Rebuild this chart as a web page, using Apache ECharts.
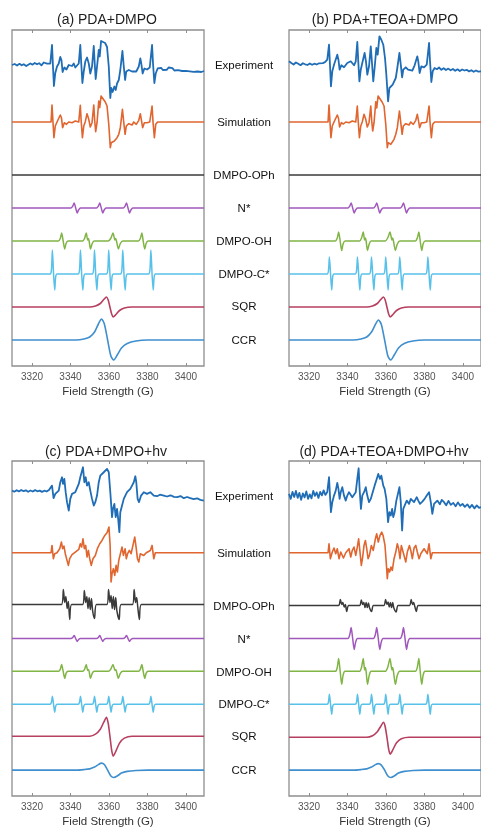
<!DOCTYPE html>
<html>
<head>
<meta charset="utf-8">
<script src="https://cdn.jsdelivr.net/npm/echarts@6/dist/echarts.min.js"></script>
<style>
html,body{margin:0;padding:0;background:#fff;}
#chart{width:481px;height:829px;}
</style>
</head>
<body>
<div id="chart"></div>
<script>
// ---------- axis / labels ----------
const fieldMin = 3309.6;
const fieldMax = 3409.4;
const tickValues = [3320, 3340, 3360, 3380, 3400];
const axisTitle = 'Field Strength (G)';
const panelTitles = ['(a) PDA+DMPO', '(b) PDA+TEOA+DMPO', '(c) PDA+DMPO+hv', '(d) PDA+TEOA+DMPO+hv'];
const traceNames = ['Experiment', 'Simulation', 'DMPO-OPh', 'N*', 'DMPO-OH', 'DMPO-C*', 'SQR', 'CCR'];

// ---------- Experiment / Simulation: [field (G), signal] ----------
const expA = [[3309.6,0],[3311,1],[3312.2,-0.5],[3313.5,1.2],[3314.6,-0.3],[3315.7,0.8],[3317,-1],[3318,0.6],[3319.1,1.5],[3320.3,0.4],[3321.4,2],[3322.6,0.7],[3323.7,1.8],[3324.9,-0.4],[3326.1,2.5],[3327,0.5],[3327.8,1.3],[3328.7,-0.5],[3329.5,1.5],[3330.4,20],[3330.9,-1.5],[3331.4,-21],[3332.1,-8],[3333.0,-1.5],[3333.9,1.5],[3334.7,8],[3335.3,5],[3335.9,-7],[3336.8,-2.5],[3337.9,-4.5],[3339.1,0],[3339.9,1.5],[3340.8,-1],[3341.7,1.5],[3342.5,-2.5],[3343.4,-3.5],[3344.3,1.5],[3345.1,20],[3345.6,1.5],[3346.2,-18],[3346.9,-6.5],[3347.7,3.5],[3348.6,7.5],[3349.5,1.5],[3350.3,-8.5],[3351.2,-1.5],[3352.1,19],[3352.6,1.5],[3353.1,-14],[3353.8,-1.5],[3354.7,15],[3355.2,8.5],[3355.9,24],[3356.9,25.5],[3358.0,22],[3359.0,18],[3359.9,-1.5],[3360.7,-33],[3361.2,-23],[3361.9,-27],[3362.8,-21.5],[3363.5,-25],[3364.2,-18.5],[3365.1,-15],[3365.9,-5],[3367.0,14],[3367.7,-1.5],[3368.4,-15],[3369.0,-6.5],[3370.3,-5],[3371.1,-4.5],[3372.0,-6.5],[3372.9,-4.5],[3374.2,-6.5],[3375.5,-1.5],[3376.3,6.5],[3376.8,1.5],[3377.5,-8.5],[3378.4,-3.5],[3379.8,-4.5],[3381.2,-2.5],[3382.4,20],[3382.9,1.5],[3383.6,-18],[3384.3,-8.5],[3385.3,-3.5],[3386.2,-4.5],[3387.1,-2.8],[3388.0,-5],[3389,-3],[3390,-4.8],[3391,-2.5],[3392,-4.5],[3393,-3.2],[3394,-5.5],[3395,-3.8],[3396,-5.2],[3397,-4],[3398,-6],[3399,-4.2],[3400,-5.8],[3401,-4.5],[3402,-6.3],[3403,-5],[3404,-6.8],[3405,-5.2],[3406,-6.5],[3407,-5.5],[3408,-7],[3409.4,-6]];
const simA = [[3309.6,0],[3329.9,0],[3330.4,17],[3330.9,0],[3331.4,-15.7],[3332.1,-4],[3333.0,0],[3333.9,1],[3334.7,7],[3335.3,4.3],[3335.9,-5.7],[3336.8,-0.7],[3337.9,-2.3],[3339.1,0],[3340.8,-0.7],[3342.5,1],[3344.3,0],[3345.1,16.7],[3345.6,0],[3346.2,-15.7],[3346.9,-4],[3347.7,0.3],[3348.6,8.3],[3349.5,2.7],[3350.3,-5],[3351.2,-0.7],[3352.1,17],[3352.6,1],[3353.1,-9.7],[3353.8,-0.7],[3354.7,21],[3355.2,14.3],[3355.9,26],[3356.9,24.3],[3358.0,20.3],[3359.0,16],[3359.9,-2.3],[3360.7,-25.7],[3361.2,-20.7],[3361.9,-22.3],[3362.8,-19],[3363.5,-20.7],[3364.2,-15.7],[3365.1,-12.3],[3365.9,-5.7],[3367.0,12.7],[3367.7,-0.7],[3368.4,-12.3],[3369.0,-4],[3370.3,-1.7],[3371.1,-0.7],[3372.0,-3],[3372.9,0],[3374.2,-2.3],[3375.5,1.7],[3376.3,8.3],[3376.8,2.7],[3377.5,-5.7],[3378.4,-0.7],[3379.8,-0.7],[3381.2,0],[3382.4,16],[3382.9,0],[3383.6,-15.7],[3384.3,-2.3],[3385.3,0],[3409.4,0]];
const expB = [[3309.6,2.7],[3310.8,1],[3312,-0.5],[3313.2,1.5],[3314.4,0.2],[3315.6,-1.2],[3316.8,0.8],[3318,-0.3],[3319.2,-1],[3320.4,0.5],[3321.6,-0.8],[3322.8,0.3],[3324,-0.5],[3325.2,0.7],[3326.1,-0.2],[3327.2,0.9],[3328.3,1.8],[3329.5,4.3],[3330.4,19.3],[3330.9,-0.7],[3331.4,-22.3],[3332.1,-7.3],[3333.0,-0.7],[3333.9,1],[3334.7,9.3],[3335.3,4.3],[3335.9,-5.7],[3336.8,-1.3],[3338.2,-3.3],[3339.9,1],[3341.7,2.7],[3343.4,-1.3],[3344.3,2.7],[3345.1,22],[3345.6,2.7],[3346.2,-17.3],[3346.9,-5.7],[3347.9,2.7],[3348.9,11],[3349.6,2.7],[3350.3,-10.7],[3351.2,-2.3],[3352.1,17.7],[3352.8,-0.7],[3353.4,-17.3],[3354.1,-4],[3355.0,16],[3355.7,9.3],[3356.6,27.7],[3357.6,24.3],[3358.6,19.3],[3359.5,6],[3360.2,-10.7],[3361.1,-37.3],[3361.8,-24],[3362.6,-22.3],[3363.5,-20.7],[3364.2,-22.3],[3365.1,-14],[3365.9,-4],[3367.0,11],[3367.7,-0.7],[3368.4,-13.3],[3369.0,-5.7],[3370.3,-3.3],[3371.5,-5.7],[3372.5,-4],[3373.7,-6.7],[3374.9,-1.3],[3376.3,7.7],[3376.8,2.7],[3377.5,-9],[3378.4,-2.3],[3379.8,-3.3],[3381.2,-0.7],[3382.4,21],[3382.9,2.7],[3383.6,-18],[3384.3,-7.3],[3385.3,-4],[3386.5,-5.2],[3387.6,-3.5],[3388.8,-5.8],[3390,-4.2],[3391.2,-6],[3392.4,-4.6],[3393.6,-6.3],[3394.8,-5],[3396,-6.8],[3397.2,-5.3],[3398.4,-7],[3399.6,-5.5],[3400.8,-6.5],[3402,-5.8],[3403.2,-7.4],[3404.4,-6.2],[3405.6,-7.8],[3406.8,-6.5],[3408,-7.6],[3409.4,-7.3]];
const simB = [[3309.6,0],[3329.9,0],[3330.4,17],[3330.9,0],[3331.4,-15.7],[3332.1,-4],[3333.0,0],[3333.9,1],[3334.7,7],[3335.3,4],[3335.9,-5],[3336.8,-0.7],[3337.9,-2],[3339.1,0],[3340.8,-0.7],[3342.5,1],[3344.3,0],[3345.1,16],[3345.6,0],[3346.2,-15.7],[3346.9,-4],[3347.7,0.3],[3348.6,7.7],[3349.5,2.7],[3350.3,-5],[3351.2,-0.7],[3352.1,16],[3352.6,1],[3353.1,-9],[3353.8,-0.7],[3354.7,20.3],[3355.2,14],[3355.9,26],[3356.9,24.3],[3358.0,20],[3359.0,16],[3359.9,-2.3],[3360.7,-25.7],[3361.2,-20.7],[3362.5,-22.3],[3363.5,-19.5],[3364.2,-17.3],[3365.1,-12.3],[3365.9,-5.7],[3367.0,11],[3367.7,-0.7],[3368.4,-12.3],[3369.0,-4],[3370.3,-1.7],[3371.1,-0.7],[3372.0,-3],[3372.9,0],[3374.2,-2.3],[3375.5,1.7],[3376.3,7.7],[3376.8,2.7],[3377.5,-5.7],[3378.4,-0.7],[3379.8,-0.7],[3381.2,0],[3382.4,16],[3382.9,0],[3383.6,-15.7],[3384.3,-2.3],[3385.3,0],[3409.4,0]];
const expC = [[3309.6,0.5],[3310.8,-0.8],[3312,0.7],[3313.2,-0.5],[3314.4,0.9],[3315.6,-0.3],[3316.8,0.6],[3318,-0.9],[3319.2,0.4],[3320.4,-0.6],[3321.6,0.8],[3322.8,-0.4],[3324,0.3],[3325.2,-1],[3326.4,0.2],[3327.6,-0.6],[3328.8,0.9],[3329.5,0.3],[3330.4,5.3],[3331.2,-7.3],[3332.1,-3],[3333.0,-1.3],[3333.9,0.3],[3334.7,8.7],[3335.6,13.7],[3336.1,7],[3336.8,12],[3337.5,-1.3],[3338.2,-11.3],[3339.1,-19.7],[3339.9,-8],[3340.8,-3],[3341.7,-4],[3342.5,-1.3],[3343.4,0.3],[3344.3,7],[3345.1,13.7],[3345.6,12],[3346.5,23.7],[3347.2,8.7],[3347.9,13.7],[3348.6,5.3],[3349.5,8.7],[3350.3,0.3],[3351.2,-8],[3352.1,-14.7],[3352.9,-11.3],[3353.8,-4.7],[3354.7,8.7],[3355.5,15.3],[3356.4,17],[3357.3,18.7],[3358.1,20.3],[3359.0,22],[3359.9,18.7],[3360.7,-1.3],[3361.6,-26.3],[3362.1,-18],[3362.8,-13],[3363.5,-26.3],[3364.2,-18],[3364.7,-26.3],[3365.4,-41.3],[3365.9,-21.3],[3366.8,-14.7],[3367.7,-8],[3368.5,-4.7],[3369.4,-1.3],[3370.3,0.3],[3371.1,2],[3372.0,5.3],[3372.9,8.7],[3373.7,14.7],[3374.2,8.7],[3374.9,-8],[3375.6,-11.3],[3376.7,-4.7],[3378.1,-1.3],[3379.8,-3],[3381.5,-1.3],[3383.3,-4.7],[3385.0,-5.3],[3386.5,-3.8],[3388.5,-4.7],[3390.2,-5.6],[3392,-4.4],[3393.8,-6],[3395.4,-6.3],[3397.2,-5.2],[3398.9,-7.3],[3400.6,-6.1],[3402.3,-7.3],[3404,-8.2],[3405.8,-7.4],[3407.5,-9],[3409.3,-9.7]];
const simC = [[3309.6,0],[3329.9,0],[3330.4,7.3],[3331.1,-6],[3331.8,-1],[3333.0,0],[3334.4,4],[3335.3,10.7],[3335.9,4],[3336.6,6.7],[3337.3,-1],[3338.2,-7.7],[3338.9,-12.7],[3339.6,-6],[3340.8,-2],[3342.5,0.7],[3344.3,3.3],[3345.1,9],[3345.8,5.7],[3346.5,14],[3347.2,4],[3347.9,7.3],[3348.6,-4.3],[3349.3,2.3],[3350.0,-6],[3350.8,-12.7],[3351.7,-6],[3352.9,-2.7],[3354.1,4.7],[3355.2,9],[3356.4,12.3],[3357.6,16.7],[3359.0,20],[3360.0,25.7],[3360.6,7.3],[3361.1,-29.3],[3361.6,-21],[3362.3,-16],[3363.0,-22.7],[3363.7,-12.7],[3364.4,-19.3],[3365.1,-7.7],[3365.9,-9.3],[3366.8,5.7],[3367.5,-2.7],[3368.4,4],[3369.0,-6],[3369.7,-1],[3370.6,2.3],[3371.5,-1],[3372.5,0.7],[3373.4,15.7],[3374.1,5.7],[3374.8,-6],[3375.5,-9.3],[3376.3,-1],[3378.1,-2.7],[3379.4,0],[3381.5,2.3],[3382.4,7.3],[3383.3,-6],[3384.1,0],[3409.4,0]];
const expD = [[3309.6,2],[3310.5,-3],[3311.4,4],[3312.3,-1],[3313.2,5],[3314.1,-2],[3315,3],[3315.9,-4],[3316.8,2.5],[3317.7,-1.5],[3318.6,4.5],[3319.5,-3],[3320.4,1.5],[3321.3,-2.5],[3322.2,5],[3323.1,0],[3324,3.5],[3324.9,-2],[3325.8,4],[3326.7,0.5],[3327.6,5.5],[3328.5,1],[3329.5,4],[3330.4,18.7],[3330.9,0.3],[3331.4,-16.3],[3332.1,-6.3],[3333.0,0.3],[3333.9,5.3],[3334.7,13],[3335.3,7],[3335.9,-3],[3336.5,3.7],[3337.3,8.7],[3338.2,0.3],[3339.1,-4.7],[3339.9,0.3],[3340.8,3.7],[3341.7,5.3],[3342.5,-1.3],[3343.4,-3],[3344.3,3.7],[3345.1,17],[3345.8,27.7],[3346.3,7],[3347.0,-13],[3347.7,0.3],[3348.6,3.7],[3349.5,8.7],[3350.3,0.3],[3351.2,-6.3],[3352.1,-3],[3352.9,-1.3],[3354.1,10.3],[3355.2,17],[3356.0,22],[3356.9,17],[3357.6,20.3],[3358.6,10.3],[3359.3,7],[3360.2,-3],[3361.1,-26.3],[3361.8,-16.3],[3362.5,-19.7],[3363.2,-13],[3363.8,-21.3],[3364.5,-16.3],[3365.4,-4.7],[3366.3,-3],[3367.0,8.7],[3367.7,-6.3],[3368.4,-34.7],[3369.0,-13],[3369.7,-9.7],[3370.8,-4.7],[3372.0,-8],[3372.9,-3],[3374.6,-6.3],[3376.0,-1.3],[3376.8,-4.7],[3377.7,-8],[3378.9,-5.7],[3380.1,-3],[3381.2,0.3],[3382.4,3.7],[3383.3,-6.3],[3384.1,-18],[3385.0,-8],[3386.7,-4.7],[3388,-8.5],[3389,-4],[3390.2,-6.3],[3391.3,-9.5],[3392.5,-5],[3393.7,-9],[3395,-7],[3396.2,-10.5],[3397.4,-6.5],[3398.6,-10],[3399.8,-8],[3401,-11],[3402.3,-8.5],[3403.5,-12],[3404.7,-9],[3406,-12.5],[3407.2,-9.5],[3408.4,-12],[3409.4,-11.3]];
const simD = [[3309.6,0],[3329.9,0],[3330.4,9],[3331.1,-6],[3332.1,0.7],[3333.0,4.7],[3333.9,-1],[3334.7,4],[3335.6,-6],[3336.5,0.7],[3337.9,-5.3],[3339.1,0],[3340.8,4],[3341.7,-4.3],[3342.5,2.3],[3343.4,5.7],[3344.3,-2.7],[3345.1,5.7],[3345.8,14],[3346.5,0.7],[3347.2,-12.7],[3347.9,-4.3],[3348.6,7.3],[3349.3,12.3],[3350.0,4],[3350.7,-6],[3351.4,-2.7],[3352.4,7.3],[3353.4,2.3],[3354.5,14],[3355.2,19],[3356.0,10.7],[3356.9,17.3],[3357.8,20.7],[3358.5,17.3],[3359.5,7.3],[3360.2,-11],[3360.7,-26],[3361.2,-16],[3361.9,-19.3],[3362.6,-14.3],[3363.3,-17.7],[3364.2,-6],[3365.1,0.7],[3365.9,9],[3366.6,4],[3367.3,-6],[3368.0,7.3],[3368.7,9],[3369.4,-2.7],[3370.3,-9.3],[3371.1,0.7],[3372.2,7.3],[3372.9,2.3],[3373.7,-6],[3374.6,4.7],[3375.5,7.3],[3376.3,0.7],[3377.2,-6],[3378.1,-1],[3379.8,4],[3381.5,-1],[3382.4,9],[3383.3,-6],[3384.1,0],[3409.4,0]];

// ---------- component spectra: shared field grids + per-panel signal ----------
const ophField = [3309.6, 3335.3,3336.3,3337.0,3337.6,3338.3,3338.9,3339.6,3340.6, 3346.3,3347.2,3347.9,3348.5,3349.1,3349.7,3350.3,3350.9,3351.5,3352.5,3353.5, 3358.9,3359.8,3360.5,3361.1,3361.7,3362.3,3362.9,3363.5,3364.1,3365.3,3366.3, 3372.2,3373.1,3373.8,3374.4,3375.0,3375.8,3376.8, 3409.4];
const ophA = [0, 0,0,0,0,0,0,0,0, 0,0,0,0,0,0,0,0,0,0,0, 0,0,0,0,0,0,0,0,0,0,0, 0,0,0,0,0,0,0, 0];
const ophB = [0, 0,0,0,0,0,0,0,0, 0,0,0,0,0,0,0,0,0,0,0, 0,0,0,0,0,0,0,0,0,0,0, 0,0,0,0,0,0,0, 0];
const ophC = [0, 0,15,2,8,-4,3,-15,0, 0,14,2,8,-4,7,-5,6,-6,-14,0, 0,15,2,9,-4,8,-5,7,-6,-15,0, 0,15,2,7,-3,-15,0, 0];
const ophD = [0, 0,6,1,3,-1.5,1,-6,0, 0,5.5,1,3,-2,3,-2,2.5,-2.5,-6,0, 0,6,1,3.5,-1.5,3,-2,3,-2.5,-6.5,0, 0,6,1,3,-1,-6,0, 0];

const nField = [3309.6, 3340.2,3341.2,3341.9,3342.7,3343.5,3344.2,3345.2, 3353.5,3354.5,3355.2,3356.0,3356.8,3357.5,3358.5, 3367.4,3368.4,3369.1,3369.9,3370.7,3371.4,3372.4, 3409.4];
const nA = [0, 0,2,5,0,-5,-2,0, 0,2,5,0,-5,-2,0, 0,2,5,0,-5,-2,0, 0];
const nB = [0, 0,2,5,0,-5,-2,0, 0,2,5,0,-5,-2,0, 0,2,5,0,-5,-2,0, 0];
const nC = [0, 0,1,3,0,-3,-1,0, 0,1,3,0,-3,-1,0, 0,1,3,0,-3,-1,0, 0];
const nD = [0, 0,4,11,0,-11,-4,0, 0,4,11,0,-11,-4,0, 0,4,11,0,-11,-4,0, 0];

const ohField = [3309.6, 3333.7,3334.7,3335.4,3336.2,3337.0,3337.7,3338.7, 3346.3,3347.3,3348.2,3348.9,3349.3,3349.7,3350.4,3351.3,3352.3, 3359.6,3360.9,3362.1,3363.1,3363.5,3363.9,3364.9,3365.9,3367.2, 3375.3,3376.3,3377.1,3377.8,3378.6,3379.3,3380.3, 3409.4];
const ohA = [0, 0,2.5,8,0,-8,-2.5,0, 0,2.5,8,1,2.5,0,-8,-2.5,0, 0,2.5,8,1,2.5,0,-8,-2.5,0, 0,2.5,8,0,-8,-2.5,0, 0];
const ohB = [0, 0,3,9,0,-9.5,-3,0, 0,3,9,1,3,0,-9.5,-3,0, 0,3,9,1,3,0,-9.5,-3,0, 0,3,9,0,-9.5,-3,0, 0];
const ohC = [0, 0,2,7,0,-7,-2,0, 0,2,7,1,2,0,-7,-2,0, 0,2,7,1,2,0,-7,-2,0, 0,2,7,0,-7,-2,0, 0];
const ohD = [0, 0,4,13,0,-13,-4,0, 0,4,13,1.5,4,0,-13,-4,0, 0,4,13,1.5,4,0,-13,-4,0, 0,4,13,0,-13,-4,0, 0];

const cField = [3309.6, 3329.4,3330.1,3330.6,3331.2,3331.8,3332.3,3333.0, 3344.0,3344.7,3345.2,3345.8,3346.4,3346.9,3347.6, 3351.3,3352.0,3352.5,3353.1,3353.7,3354.2,3354.9, 3358.7,3359.4,3359.9,3360.5,3361.1,3361.6,3362.3, 3366.0,3366.7,3367.2,3367.8,3368.4,3368.9,3369.6, 3380.6,3381.3,3381.8,3382.4,3383.0,3383.5,3384.2, 3409.4];
const cA = [0, 0,4,24,0,-16,-3,0, 0,4,24,0,-16,-3,0, 0,4,24,0,-16,-3,0, 0,4,24,0,-16,-3,0, 0,4,24,0,-16,-3,0, 0,4,24,0,-16,-3,0, 0];
const cB = [0, 0,3,17,0,-16,-3,0, 0,3,17,0,-16,-3,0, 0,3,17,0,-16,-3,0, 0,3,17,0,-16,-3,0, 0,3,17,0,-16,-3,0, 0,3,17,0,-16,-3,0, 0];
const cC = [0, 0,2,8,0,-8,-2,0, 0,2,8,0,-8,-2,0, 0,2,8,0,-8,-2,0, 0,2,8,0,-8,-2,0, 0,2,8,0,-8,-2,0, 0,2,8,0,-8,-2,0, 0];
const cD = [0, 0,2,10,0,-10,-2,0, 0,2,10,0,-10,-2,0, 0,2,10,0,-10,-2,0, 0,2,10,0,-10,-2,0, 0,2,10,0,-10,-2,0, 0,2,10,0,-10,-2,0, 0];

const sqrField = [3309.6, 3350, 3353, 3355.5, 3357.3, 3358.7, 3359.6, 3360.5, 3361.4, 3362.2, 3363.6, 3365.5, 3368, 3372, 3409.4];
const sqrA = [0, 0, 1, 3.5, 7.5, 10, 7, 0, -7, -10, -7.5, -3.5, -1, 0, 0];
const sqrB = [0, 0, 1, 3.5, 7.5, 10, 7, 0, -7, -10, -7.5, -3.5, -1, 0, 0];
const sqrC = [0, 0, 2, 7, 14, 19, 13, 0, -14, -20, -15, -7, -2, 0, 0];
const sqrD = [0, 0, 1.5, 5.5, 11, 15, 10.5, 0, -12, -17, -12.5, -5.5, -1.5, 0, 0];

const ccrField = [3309.6, 3343, 3347, 3350, 3352.5, 3354.5, 3356.1, 3357.6, 3359.3, 3361, 3362.5, 3364.3, 3366.5, 3369.5, 3374, 3380, 3409.4];
const ccrA = [0, 0, 1, 3, 8, 16, 21, 16, 0, -16, -20, -15, -8, -3.5, -1, 0, 0];
const ccrB = [0, 0, 1, 3, 8, 15.5, 20, 15.5, 0, -16, -20, -15, -8, -3.5, -1, 0, 0];
const ccrC = [0, 0, 0.5, 1.2, 3, 5.5, 7, 5.5, 0, -6, -7.5, -6, -3, -1.3, -0.4, 0, 0];
const ccrD = [0, 0, 0.5, 1.2, 3, 5.5, 6.5, 5, 0, -6, -7.5, -6, -3, -1.3, -0.4, 0, 0];

// ---------- layout / style (not data) ----------
const FONT = '"Liberation Sans", Arial, sans-serif';
const plotH = 336;
const gridBoxes = [
  {left: 12, top: 30}, {left: 289, top: 30},
  {left: 12, top: 461}, {left: 289, top: 461}
];
const titleCenters = [[107, 20], [385, 20], [106, 452], [384, 452]];
const baseOffsets = [
  [35, 92, 145, 178, 211, 244, 277, 310],
  [34, 92, 145, 178, 211, 244, 277, 310],
  [30, 92, 144, 178, 211, 244, 276, 310],
  [35, 92, 145, 178, 211, 244, 277, 310]
];
const labelOffsets = [36, 93, 146, 179, 212, 245, 277, 311];
const colors = ['#1f6db6', '#e0652f', '#3a3a3a', '#a158bd', '#80b545', '#58c1ea', '#b73f5f', '#3f8fcf'];
const widths = [1.8, 1.6, 1.5, 1.5, 1.5, 1.5, 1.6, 1.6];

const pairs = (f, a) => f.map((x, i) => [x, a[i]]);
const panels = [
  [expA, simA, pairs(ophField, ophA), pairs(nField, nA), pairs(ohField, ohA), pairs(cField, cA), pairs(sqrField, sqrA), pairs(ccrField, ccrA)],
  [expB, simB, pairs(ophField, ophB), pairs(nField, nB), pairs(ohField, ohB), pairs(cField, cB), pairs(sqrField, sqrB), pairs(ccrField, ccrB)],
  [expC, simC, pairs(ophField, ophC), pairs(nField, nC), pairs(ohField, ohC), pairs(cField, cC), pairs(sqrField, sqrC), pairs(ccrField, ccrC)],
  [expD, simD, pairs(ophField, ophD), pairs(nField, nD), pairs(ohField, ohD), pairs(cField, cD), pairs(sqrField, sqrD), pairs(ccrField, ccrD)]
];

const labelValues = labelOffsets.map(o => plotH - o);

const grid = [], xAxis = [], yAxis = [], series = [], graphic = [];
gridBoxes.forEach((g, p) => {
  grid.push({left: g.left, top: g.top, width: 192, height: plotH, show: true,
    borderColor: '#8e8e8e', borderWidth: 1.3, backgroundColor: 'transparent'});
  xAxis.push({
    gridIndex: p, type: 'value', min: fieldMin, max: fieldMax, position: 'bottom',
    axisLine: {show: false}, splitLine: {show: false},
    axisTick: {show: true, inside: true, length: 3, customValues: tickValues, lineStyle: {color: '#8e8e8e', width: 1}},
    axisLabel: {show: true, customValues: tickValues, color: '#555', fontSize: 10, margin: 6, fontFamily: FONT,
      formatter: v => String(v)},
    name: axisTitle, nameLocation: 'middle', nameGap: 20,
    nameTextStyle: {color: '#333', fontSize: 11.5, fontFamily: FONT}
  });
  xAxis.push({
    gridIndex: p, type: 'value', min: fieldMin, max: fieldMax, position: 'top',
    axisLine: {show: false}, splitLine: {show: false},
    axisTick: {show: true, inside: true, length: 3, customValues: tickValues, lineStyle: {color: '#8e8e8e', width: 1}},
    axisLabel: {show: false}
  });
  const showLabels = (p % 2 === 1);
  yAxis.push({
    gridIndex: p, type: 'value', min: 0, max: plotH,
    axisLine: {show: false}, axisTick: {show: false}, splitLine: {show: false},
    axisLabel: showLabels ? {
      show: true, customValues: labelValues, align: 'center', margin: 45,
      color: '#111', fontSize: 11.5, fontFamily: FONT,
      formatter: v => { const i = labelValues.indexOf(v); return i >= 0 ? traceNames[i] : ''; }
    } : {show: false}
  });
  panels[p].forEach((d, t) => {
    const off = baseOffsets[p][t];
    series.push({
      type: 'line', xAxisIndex: 2 * p, yAxisIndex: p,
      data: d.map(([f, a]) => [f, plotH - off + a]),
      showSymbol: false, silent: true,
      smooth: t >= 2 ? 0.25 : false,
      lineStyle: {color: colors[t], width: widths[t], join: 'round'},
      z: 3
    });
  });
  graphic.push({
    type: 'text', x: titleCenters[p][0], y: titleCenters[p][1],
    style: {text: panelTitles[p], fill: '#1e1e1e', font: '14px ' + FONT, textAlign: 'center', textVerticalAlign: 'middle'}
  });
});

const chart = echarts.init(document.getElementById('chart'), null, {renderer: 'canvas'});
chart.setOption({animation: false, backgroundColor: '#ffffff', grid, xAxis, yAxis, series, graphic});
</script>
</body>
</html>
